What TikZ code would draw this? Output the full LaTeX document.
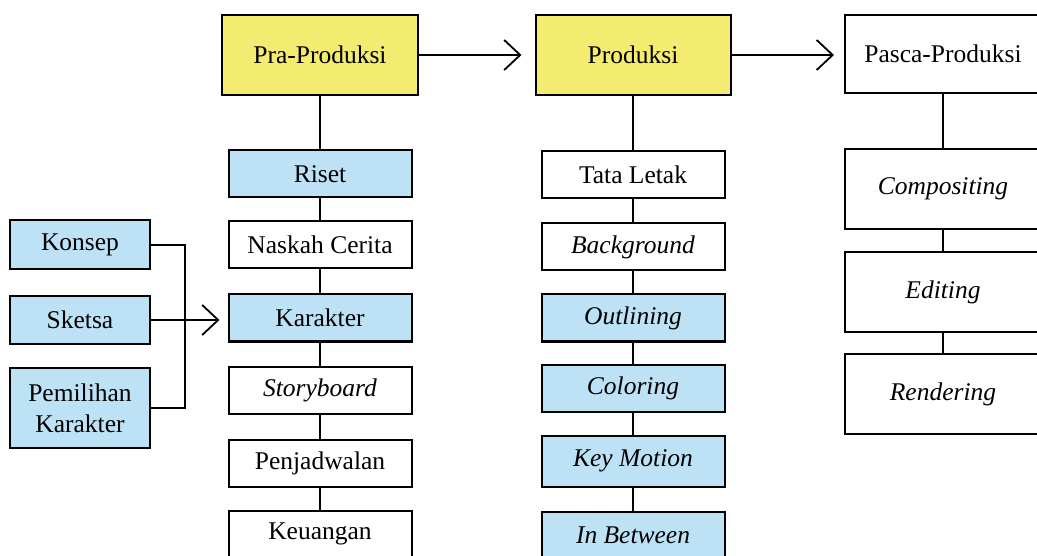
\documentclass[tikz,border=0pt]{standalone}
\usepackage{fontspec}
\setmainfont{Liberation Serif}
\usetikzlibrary{arrows.meta}
\definecolor{phaseyellow}{RGB}{244,236,112}
\definecolor{taskblue}{RGB}{189,226,246}

\begin{document}
\begin{tikzpicture}[x=1pt, y=-1pt, line width=1.8pt,
  box/.style={draw, line width=2pt, fill=white, inner sep=0pt,
    minimum width=183pt, minimum height=47pt, align=center,
    font=\fontsize{25.5}{31}\selectfont},
  phase/.style={box, minimum width=196pt, minimum height=80pt},
  blue/.style={fill=taskblue},
  side/.style={box, blue, minimum width=140pt, minimum height=49pt},
  flow/.style={-{Straight Barb[length=16pt, width=30pt]}}]
  \useasboundingbox (0,0) rectangle (1037,556);
  \clip (0,0) rectangle (1037,556);

  % phases
  \node[phase, fill=phaseyellow] (pra) at (320,55) {Pra-Produksi};
  \node[phase, fill=phaseyellow, minimum width=195pt] (prod) at (633,55) {Produksi};
  \node[phase, minimum height=78pt] (pasca) at (943,54) {Pasca-Produksi};
  \draw[flow, shorten >=13pt] (pra) -- (prod);
  \draw[flow, shorten >=10pt] (prod.east) -- (prod.east -| pasca.west);

  % pra-produksi column
  \node[box, blue] (riset) at (320,174) {Riset};
  \node[box] (naskah) at (320,245) {Naskah Cerita};
  \node[box, blue] (karakter) at (320,318) {Karakter};
  \node[box] (story) at (320,390) {\itshape Storyboard};
  \node[box] (jadwal) at (320,463) {Penjadwalan};
  \node[box] (uang) at (320,534) {Keuangan};

  % produksi column
  \node[box] (tata) at (633,175) {Tata Letak};
  \node[box] (bg) at (633,247) {\itshape Background};
  \node[box, blue] (outline) at (633,318) {\itshape Outlining};
  \node[box, blue] (color) at (633,388) {\itshape Coloring};
  \node[box, blue, minimum height=51pt] (key) at (633,461) {\itshape Key Motion};
  \node[box, blue] (between) at (633,535) {\itshape In Between};

  % pasca-produksi column
  \node[phase] (comp) at (943,189) {\itshape Compositing};
  \node[phase] (edit) at (943,292) {\itshape Editing};
  \node[phase] (render) at (943,394) {\itshape Rendering};

  \foreach \a/\b in {pra/riset, riset/naskah, naskah/karakter, karakter/story,
      story/jadwal, jadwal/uang, prod/tata, tata/bg, bg/outline,
      outline/color, color/key, key/between, pasca/comp, comp/edit,
      edit/render}
    \draw (\a) -- (\b);

  % karakter inputs
  \node[side] (konsep) at (80,245) {Konsep};
  \node[side, minimum height=48pt] (sketsa) at (80,320) {Sketsa};
  \node[side, minimum height=80pt] (pilih) at (80,408) {Pemilihan\\Karakter};
  \coordinate (join) at (185,320);
  \draw (konsep.east) -| (join) |- (pilih.east);
  \draw[flow, shorten >=8pt] (sketsa.east) -- (sketsa.east -| karakter.west);
\end{tikzpicture}
\end{document}
